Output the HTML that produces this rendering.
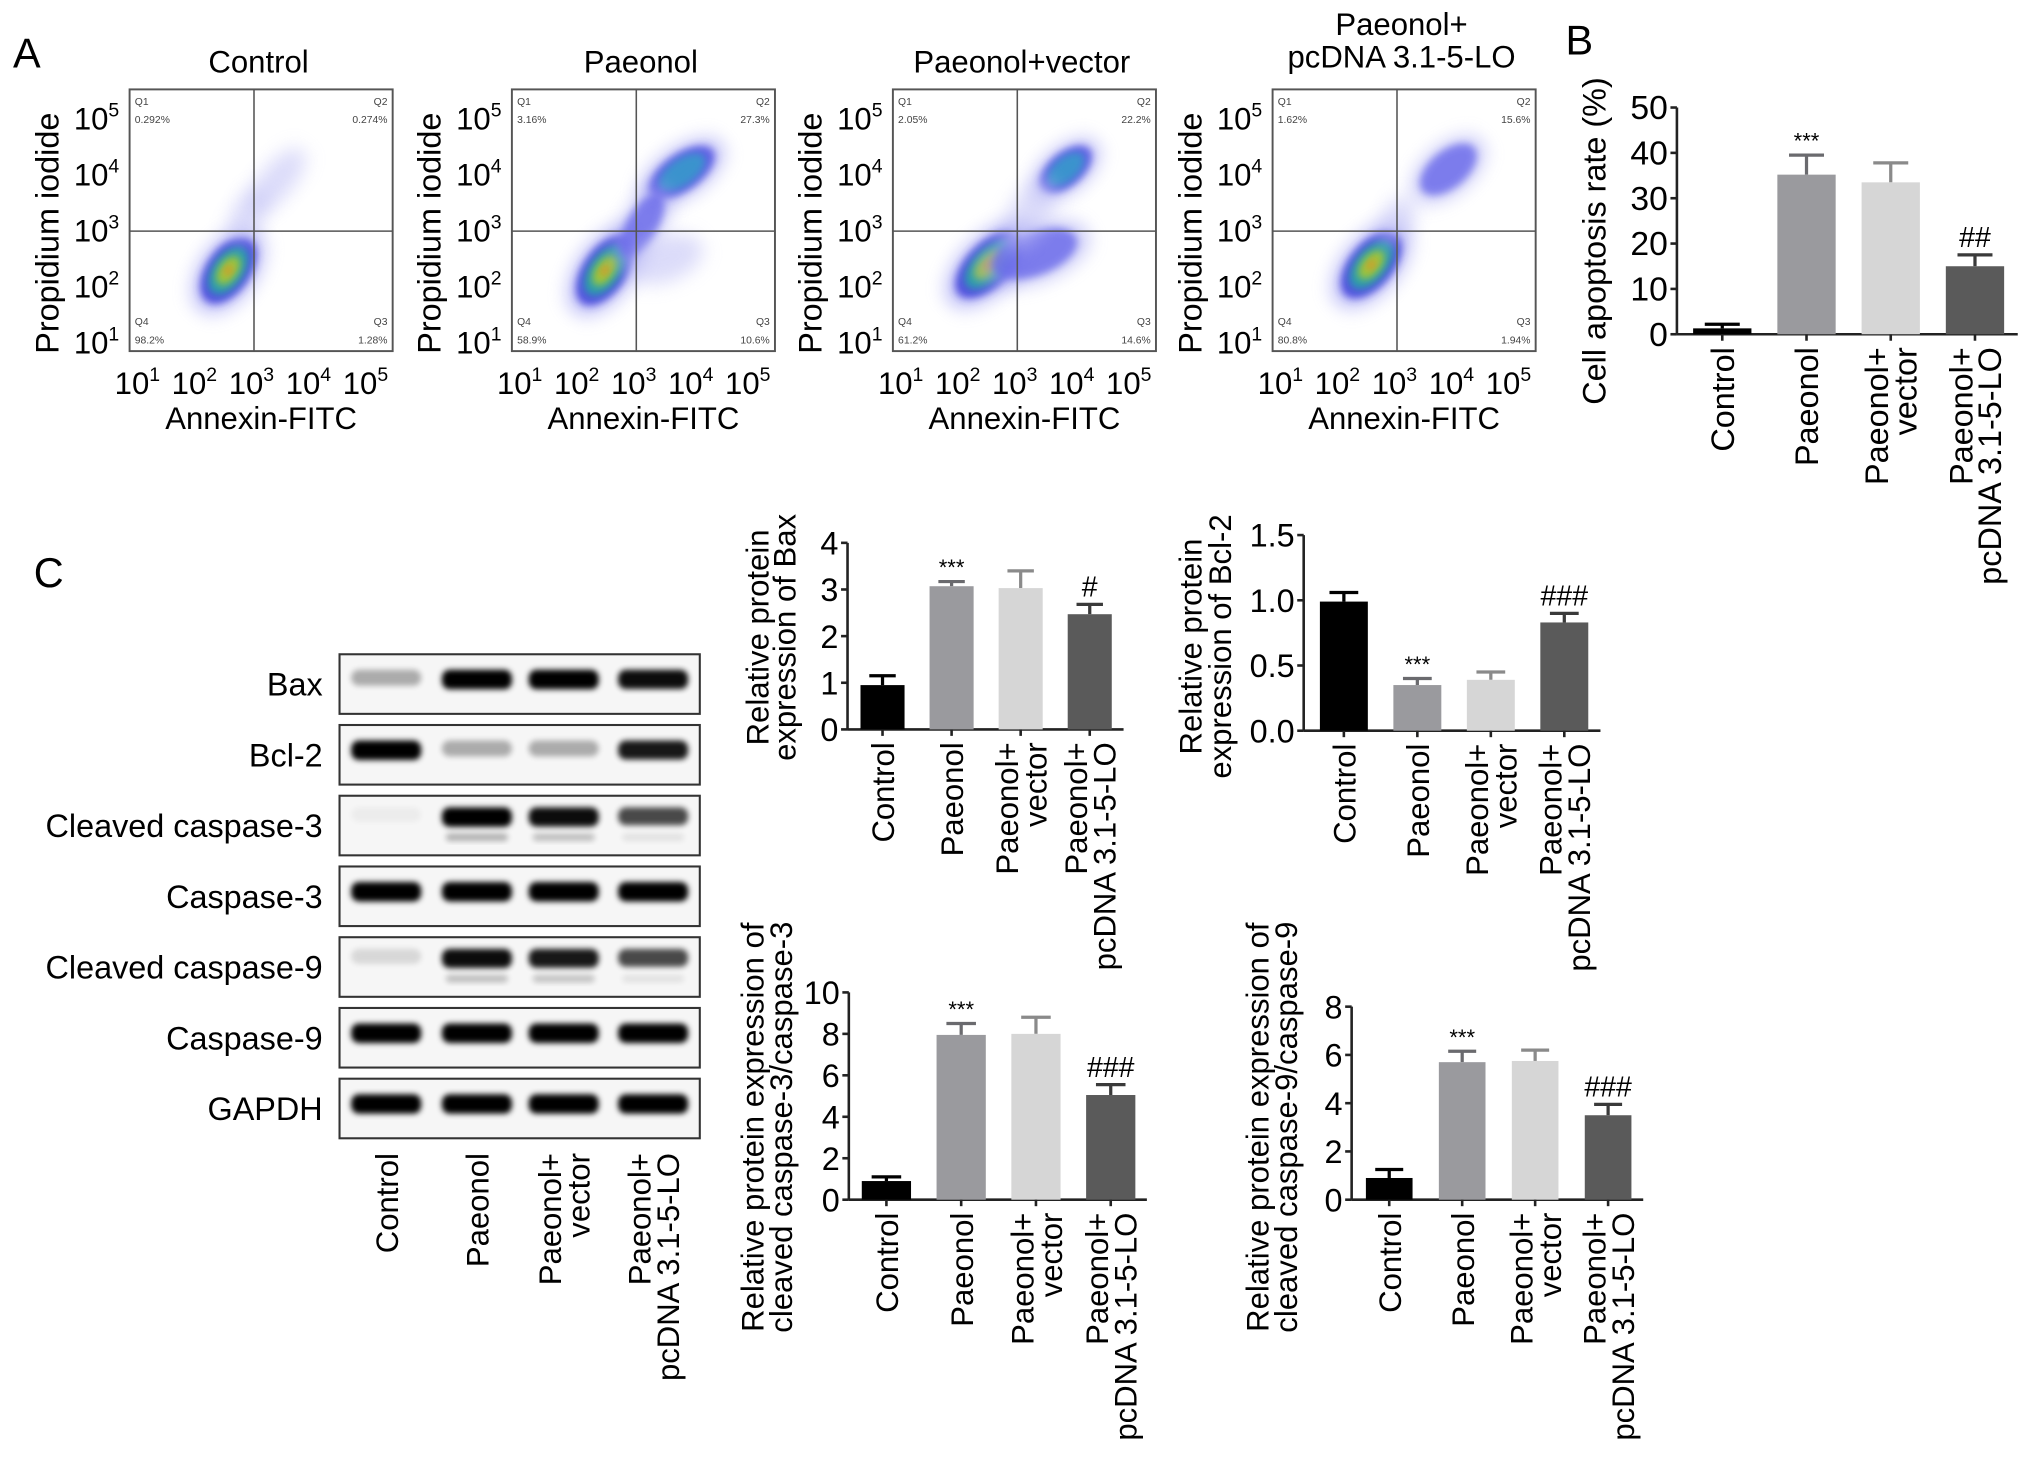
<!DOCTYPE html>
<html><head><meta charset="utf-8">
<style>
html,body{margin:0;padding:0;background:#fff;}
svg{display:block;font-family:"Liberation Sans",Arial,sans-serif;}
</style></head>
<body>
<svg id="fig" xmlns="http://www.w3.org/2000/svg" width="2032" height="1464" viewBox="0 0 1568 1130" preserveAspectRatio="none">
<defs>
<filter id="blur6" x="-50%" y="-50%" width="200%" height="200%"><feGaussianBlur stdDeviation="7"/></filter>
<filter id="blur3" x="-50%" y="-50%" width="200%" height="200%"><feGaussianBlur stdDeviation="3"/></filter>
<filter id="blur2" x="-50%" y="-50%" width="200%" height="200%"><feGaussianBlur stdDeviation="2.2"/></filter>
</defs>
<rect x="0" y="0" width="1568" height="1130" fill="#fff"/>
<text x="10" y="52" font-size="32">A</text>
<text x="1208" y="42" font-size="32">B</text>
<text x="26" y="453" font-size="32">C</text>
<g id="flow"></g>
<g id="panelB"></g>
<g id="blot"></g>
<g id="bax"></g>
<g id="bcl2"></g>
<g id="casp3"></g>
<g id="casp9"></g>
</svg>
<script>
const NS='http://www.w3.org/2000/svg';
function el(tag,attrs,parent,txt){const e=document.createElementNS(NS,tag);for(const k in attrs)e.setAttribute(k,attrs[k]);if(txt!==undefined)e.textContent=txt;if(parent)parent.appendChild(e);return e;}

// ---------- data ----------
const groupLabels=[['Control'],['Paeonol'],['Paeonol+','vector'],['Paeonol+','pcDNA 3.1-5-LO']];
const barColors=['#000000','#9a9a9e','#d6d6d6','#5a5a5a'];
const errColors=['#000000','#6a6a6e','#8a8a8a','#3a3a3a'];

const flowTitles=[['Control'],['Paeonol'],['Paeonol+vector'],['Paeonol+','pcDNA 3.1-5-LO']];
const flowQ1=['0.292%','3.16%','2.05%','1.62%'];
const flowQ2=['0.274%','27.3%','22.2%','15.6%'];
const flowQ3=['1.28%','10.6%','14.6%','1.94%'];
const flowQ4=['98.2%','58.9%','61.2%','80.8%'];
const flowDecades=[1,2,3,4,5];

const apoptosisVals=[1.3,35.2,33.5,15.0];
const apoptosisErr=[2.2,39.5,37.8,17.5];
const apoptosisMarks=['','***','','##'];
const apoptosisTicks=[0,10,20,30,40,50];

const baxVals=[0.95,3.07,3.03,2.47];
const baxErr=[1.15,3.17,3.40,2.68];
const baxMarks=['','***','','#'];
const baxTicks=[0,1,2,3,4];

const bclVals=[0.99,0.35,0.39,0.83];
const bclErr=[1.06,0.40,0.45,0.90];
const bclMarks=['','***','','###'];
const bclTicks=[0,0.5,1.0,1.5];

const c3Vals=[0.9,7.95,8.0,5.05];
const c3Err=[1.1,8.5,8.8,5.55];
const c3Marks=['','***','','###'];
const c3Ticks=[0,2,4,6,8,10];

const c9Vals=[0.9,5.7,5.75,3.5];
const c9Err=[1.25,6.15,6.2,3.95];
const c9Marks=['','***','','###'];
const c9Ticks=[0,2,4,6,8];

const blotRows=['Bax','Bcl-2','Cleaved caspase-3','Caspase-3','Cleaved caspase-9','Caspase-9','GAPDH'];
const blotMain=[[0.3,1,1,0.95],[1,0.3,0.3,0.9],[0.04,1,0.95,0.7],[1,1,1,1],[0.12,0.95,0.9,0.7],[1,1,1,1],[1,1,1,1]];
const blotLower=[[0,0,0,0],[0,0,0,0],[0,0.28,0.22,0.08],[0,0,0,0],[0,0.22,0.2,0.08],[0,0,0,0],[0,0,0,0]];

// ---------- flow cytometry ----------
const flowG=document.getElementById('flow');
const flowX0=[100,395,689,982];
const fy0=69,fW=203,fH=202;
function fx(x0,d){return x0+8+(d-1)*44;}
function fyv(d){return 265-(d-1)*43.3;}
const flowClusters=[
 [[2.55,2.3,0.85,0.5,-55,3],[2.9,3.3,0.5,0.28,-60,0],[3.4,3.9,0.7,0.3,-50,0]],
 [[2.45,2.3,0.9,0.5,-55,3],[3.8,4.05,0.85,0.42,-35,2],[3.1,3.1,0.8,0.35,-60,1],[3.5,2.5,0.7,0.4,-20,0]],
 [[2.5,2.4,0.95,0.5,-45,3],[3.85,4.1,0.7,0.38,-40,2],[3.3,2.6,1.0,0.5,-20,1],[3.2,3.3,0.7,0.35,-60,0]],
 [[2.55,2.4,0.9,0.5,-50,3],[3.9,4.1,0.75,0.42,-40,1],[3.0,3.2,0.45,0.28,-60,0]]
];
const levelCols=[['#c4c4f6'],['#a0a0f2','#6a6aea'],['#9090f0','#4848e0','#30a0c8'],['#9090f2','#3838d8','#20b0a0','#b8d020','#f08020']];
for(let p=0;p<4;p++){
  const x0=flowX0[p];
  const g=el('g',{},flowG);
  
  
  const t=flowTitles[p];
  const tcx=x0+fW/2-2;
  t.forEach((line,i)=>{const tt=el('text',{x:tcx,y:t.length===1?56:(27+i*25),'font-size':24,'text-anchor':'middle'},g,line);});
  flowClusters[p].forEach(c=>{
    const cx=fx(x0,c[0]),cy=fyv(c[1]),rx=c[2]*44,ry=c[3]*43.3;
    const cols=levelCols[c[5]];
    cols.forEach((col,i)=>{
      const s=1-i*0.22;
      const e=el('ellipse',{cx:cx,cy:cy,rx:rx*s,ry:ry*s,fill:col,opacity:i===0?0.6:0.8,filter:i===0?'url(#blur6)':'url(#blur3)',transform:`rotate(${c[4]} ${cx} ${cy})`},g);
      
      
    });
  });
  const box=el('rect',{x:x0,y:fy0,width:fW,height:fH,fill:'none',stroke:'#555','stroke-width':1.5},g);
  
  const vg=el('line',{x1:fx(x0,3),x2:fx(x0,3),y1:fy0,y2:fy0+fH,stroke:'#555','stroke-width':1.2},g);
  
  const hg=el('line',{x1:x0,x2:x0+fW,y1:fyv(3),y2:fyv(3),stroke:'#555','stroke-width':1.2},g);
  
  const qs=[['Q1',flowQ1[p],x0+4,'start',fy0+12],['Q2',flowQ2[p],x0+fW-4,'end',fy0+12],['Q4',flowQ4[p],x0+4,'start',fy0+182],['Q3',flowQ3[p],x0+fW-4,'end',fy0+182]];
  qs.forEach(q=>{
    const a=el('text',{x:q[2],y:q[4],'font-size':8,fill:'#444','text-anchor':q[3]},g,q[0]);
    const b=el('text',{x:q[2],y:q[4]+14,'font-size':8,fill:'#444','text-anchor':q[3]},g,q[1]);
  });
  flowDecades.forEach(d=>{
    const tx=el('text',{x:fx(x0,d)-2,y:304,'font-size':24,'text-anchor':'middle'},g);
    
    el('tspan',{},tx,'10');el('tspan',{dy:-10,'font-size':15},tx,String(d));
    const ty=el('text',{x:x0-8,y:fyv(d)+8,'font-size':24,'text-anchor':'end'},g);
    
    el('tspan',{},ty,'10');
    el('tspan',{dy:-10,'font-size':15},ty,String(d));
  });
  const xl=el('text',{x:x0+fW/2,y:331,'font-size':24,'text-anchor':'middle'},g,'Annexin-FITC');
  
  const yx=x0-55;
  const yl=el('text',{x:yx,y:180,'font-size':25,'text-anchor':'middle',transform:`rotate(-90 ${yx} 180)`},g,'Propidium iodide');
  
}

// ---------- bar chart helper ----------
function barChart(o){
  const g=document.getElementById(o.id);
  
  
  const ys=v=>o.yBot-(v/o.max)*(o.yBot-o.yTop);
  const xs=i=>o.x0+i*o.band;
  const ax=el('line',{x1:o.axX,x2:o.axX,y1:o.yTop,y2:o.yBot,stroke:'#222','stroke-width':2},g);
  
  const bx=el('line',{x1:o.axX,x2:o.axEnd,y1:o.yBot,y2:o.yBot,stroke:'#222','stroke-width':2},g);
  
  o.ticks.forEach(t=>{
    const y=ys(t);
    const tl=el('line',{x1:o.axX-5,x2:o.axX,y1:y,y2:y,stroke:'#222','stroke-width':2},g);
    
    const tx=el('text',{x:o.axX-7,y:y+9,'font-size':o.fs,'text-anchor':'end'},g,o.fmt(t));
    
  });
  o.vals.forEach((v,i)=>{
    const cx=xs(i);
    const ey=ys(o.errs[i]),vy=ys(v);
    const el1=el('line',{x1:cx,x2:cx,y1:vy,y2:ey,stroke:errColors[i],'stroke-width':2.5},g);
    
    const el2=el('line',{x1:cx-o.bw*0.3,x2:cx+o.bw*0.3,y1:ey,y2:ey,stroke:errColors[i],'stroke-width':2.5},g);
    
    const r=el('rect',{x:cx-o.bw/2,y:vy,width:o.bw,height:o.yBot-vy,fill:barColors[i]},g);
    
    const tk=el('line',{x1:cx,x2:cx,y1:o.yBot,y2:o.yBot+5,stroke:'#222','stroke-width':2},g);
    
    if(o.marks[i]){
      const star=o.marks[i].indexOf('*')>=0;
      const m=el('text',{x:cx,y:ey-(star?5:6),'font-size':star?17:22,'text-anchor':'middle'},g,o.marks[i]);
      
    }
    catLabel(g,cx,o.yBot+10,groupLabels[i],o.cfs);
  });
  o.yl.forEach((line,i)=>{
    const x=o.ylX+i*o.ylGap+9;
    const t=el('text',{x:x,y:o.ylY,'font-size':o.yfs,'text-anchor':'middle',transform:`rotate(-90 ${x} ${o.ylY})`},g,line);
    
  });
}
function catLabel(g,cx,y0,lines,fs){
  const n=lines.length;
  lines.forEach((line,j)=>{
    const x=cx+(n===1?9:(j===0?-2:20));
    const t=el('text',{x:x,y:y0,'font-size':fs,'text-anchor':'end',transform:`rotate(-90 ${x} ${y0})`},g,line);
    
  });
}

barChart({id:'panelB',name:'apoptosis-rate-chart',axX:1294,axEnd:1557,yTop:83,yBot:258,max:50,ticks:apoptosisTicks,fmt:t=>String(t),fs:26,
  x0:1329,band:65,bw:45,vals:apoptosisVals,errs:apoptosisErr,marks:apoptosisMarks,cfs:25,
  yl:['Cell apoptosis rate (%)'],ylX:1230,ylGap:0,ylY:186,yfs:25});
barChart({id:'bax',name:'bax-chart',axX:654,axEnd:867,yTop:419,yBot:563,max:4,ticks:baxTicks,fmt:t=>String(t),fs:25,
  x0:681,band:53.3,bw:34,vals:baxVals,errs:baxErr,marks:baxMarks,cfs:24,
  yl:['Relative protein','expression of Bax'],ylX:584,ylGap:21,ylY:492,yfs:24});
barChart({id:'bcl2',name:'bcl2-chart',axX:1006,axEnd:1235,yTop:413,yBot:564,max:1.5,ticks:bclTicks,fmt:t=>t.toFixed(1),fs:25,
  x0:1037,band:56.7,bw:37,vals:bclVals,errs:bclErr,marks:bclMarks,cfs:24,
  yl:['Relative protein','expression of Bcl-2'],ylX:918,ylGap:23,ylY:499,yfs:24});
barChart({id:'casp3',name:'cleaved-caspase3-chart',axX:655,axEnd:885,yTop:766,yBot:926,max:10,ticks:c3Ticks,fmt:t=>String(t),fs:25,
  x0:684,band:57.7,bw:38,vals:c3Vals,errs:c3Err,marks:c3Marks,cfs:24,
  yl:['Relative protein expression of','cleaved caspase-3/caspase-3'],ylX:580,ylGap:22,ylY:870,yfs:24});
barChart({id:'casp9',name:'cleaved-caspase9-chart',axX:1043,axEnd:1268,yTop:777,yBot:926,max:8,ticks:c9Ticks,fmt:t=>String(t),fs:25,
  x0:1072,band:56.3,bw:36,vals:c9Vals,errs:c9Err,marks:c9Marks,cfs:24,
  yl:['Relative protein expression of','cleaved caspase-9/caspase-9'],ylX:970,ylGap:22,ylY:870,yfs:24});

// ---------- western blot ----------
const blotG=document.getElementById('blot');


const laneX=[298,368,435,504];
blotRows.forEach((name,r)=>{
  const y0=505+r*54.6,h=46;
  const lab=el('text',{x:249,y:y0+h/2+9,'font-size':25,'text-anchor':'end'},blotG,name);
  
  const bg=el('rect',{x:262,y:y0,width:278,height:h,fill:'#f6f6f6'},blotG);
  
  laneX.forEach((cx,l)=>{
    const a=blotMain[r][l];
    if(a>0){const b=el('rect',{x:cx-27,y:y0+h/2-(r===2||r===4?9:6)-5,width:54,height:11+a*4,rx:6,fill:'#000',opacity:Math.min(1,a),filter:'url(#blur2)'},blotG);
    }
    const a2=blotLower[r][l];
    if(a2>0){const b2=el('rect',{x:cx-24,y:y0+h/2+6,width:48,height:6,rx:3,fill:'#000',opacity:a2,filter:'url(#blur2)'},blotG);
    }
  });
  const fr=el('rect',{x:262,y:y0,width:278,height:h,fill:'none',stroke:'#333','stroke-width':1.6},blotG);
  
});
laneX.forEach((cx,i)=>catLabel(blotG,cx,890,groupLabels[i],24));
</script>
</body></html>
